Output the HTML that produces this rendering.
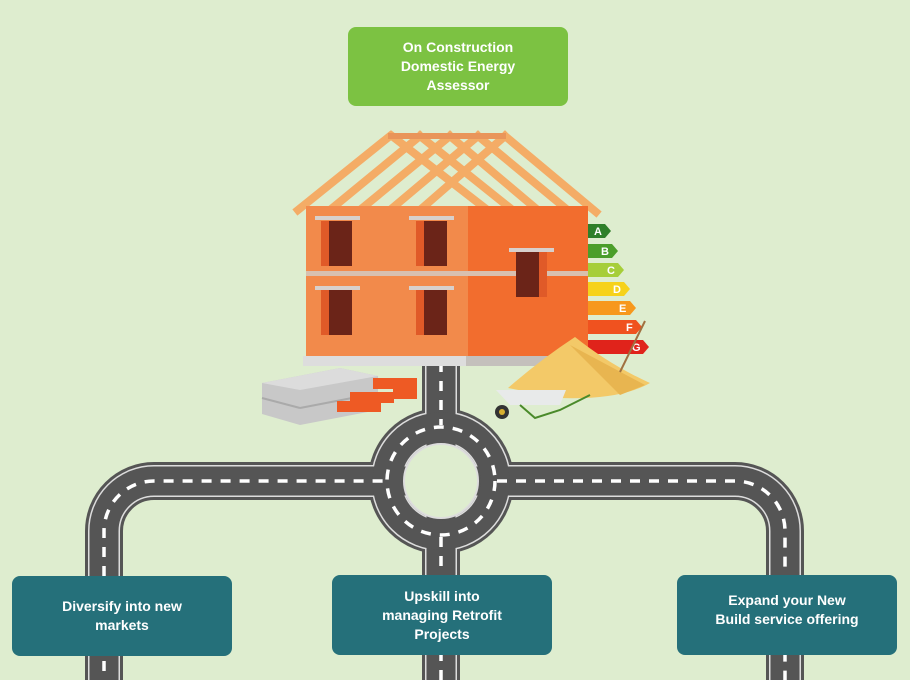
<!DOCTYPE html>
<html><head><meta charset="utf-8"><style>
html,body{margin:0;padding:0;background:#deedcf;}
body{width:910px;height:680px;position:relative;overflow:hidden;font-family:"Liberation Sans",sans-serif;}
.box{position:absolute;color:#fff;font-weight:bold;font-size:14px;line-height:19px;text-align:center;border-radius:8px;display:flex;align-items:center;justify-content:center;}
.g{background:#7cc242;}
.t{background:#25707a;}
</style></head><body>
<svg width="910" height="680" style="position:absolute;left:0;top:0">
<g fill="none">
 <path d="M104 690 V531 A50 50 0 0 1 154 481 H735 A50 50 0 0 1 785 531 V690" stroke="#555" stroke-width="38"/>
 <path d="M441 360 V690" stroke="#555" stroke-width="38"/>
 <circle cx="441" cy="481" r="54" stroke="#555" stroke-width="38"/>
 <path d="M104 690 V531 A50 50 0 0 1 154 481 H735 A50 50 0 0 1 785 531 V690" stroke="#ddd" stroke-width="32"/>
 <path d="M441 360 V690" stroke="#ddd" stroke-width="32"/>
 <circle cx="441" cy="481" r="54" stroke="#ddd" stroke-width="32"/>
 <path d="M104 690 V531 A50 50 0 0 1 154 481 H735 A50 50 0 0 1 785 531 V690" stroke="#555" stroke-width="29"/>
 <path d="M441 360 V690" stroke="#555" stroke-width="29"/>
 <circle cx="441" cy="481" r="54" stroke="#555" stroke-width="29"/>
 <circle cx="441" cy="481" r="37" fill="#deedcf" stroke="#ddd" stroke-width="2"/>
 <path d="M104 690 V531 A50 50 0 0 1 154 481 H385 M497 481 H735 A50 50 0 0 1 785 531 V690" stroke="#fff" stroke-width="3.5" stroke-dasharray="10 9"/>
 <path d="M441 362 V425 M441 537 V690" stroke="#fff" stroke-width="3.5" stroke-dasharray="10 9"/>
 <circle cx="441" cy="481" r="54" stroke="#fff" stroke-width="3.5" stroke-dasharray="10 9"/>
</g>
<g stroke="#f4ac66" stroke-width="8" stroke-linecap="square">
 <line x1="298" y1="210" x2="390" y2="136"/>
 <line x1="330" y1="210" x2="420" y2="136"/>
 <line x1="360" y1="210" x2="450" y2="136"/>
 <line x1="390" y1="210" x2="478" y2="136"/>
 <line x1="420" y1="210" x2="505" y2="136"/>
 <line x1="392" y1="136" x2="490" y2="212"/>
 <line x1="420" y1="136" x2="515" y2="212"/>
 <line x1="450" y1="136" x2="540" y2="212"/>
 <line x1="478" y1="136" x2="570" y2="212"/>
 <line x1="505" y1="136" x2="596" y2="212"/>
</g>
<rect x="388" y="133" width="118" height="6" fill="#e9955a"/>
<rect x="306" y="206" width="162" height="150" fill="#f28a4b"/>
<rect x="468" y="206" width="120" height="150" fill="#f26d2e"/>
<rect x="306" y="271" width="282" height="5" fill="#d8c0b0"/>
<rect x="303" y="356" width="163" height="10" fill="#ddd"/>
<rect x="466" y="356" width="110" height="10" fill="#c4c0bc"/>
<g fill="#6b2418">
 <rect x="329" y="221" width="23" height="45"/><rect x="424" y="221" width="23" height="45"/>
 <rect x="329" y="290" width="23" height="45"/><rect x="424" y="290" width="23" height="45"/>
 <rect x="516" y="252" width="23" height="45"/>
</g>
<g fill="#e05a28">
 <rect x="321" y="221" width="8" height="45"/><rect x="416" y="221" width="8" height="45"/>
 <rect x="321" y="290" width="8" height="45"/><rect x="416" y="290" width="8" height="45"/>
 <rect x="539" y="252" width="8" height="45"/>
</g>
<g fill="#d8d0cc">
 <rect x="315" y="216" width="45" height="4"/><rect x="409" y="216" width="45" height="4"/>
 <rect x="315" y="286" width="45" height="4"/><rect x="409" y="286" width="45" height="4"/>
 <rect x="509" y="248" width="45" height="4"/>
</g>
<g font-family="Liberation Sans" font-weight="bold" font-size="11" fill="#fff">
 <path d="M588 224h17l6 7-6 7h-17z" fill="#2f7f2a"/><text x="594" y="235">A</text>
 <path d="M588 244h24l6 7-6 7h-24z" fill="#4b9e2a"/><text x="601" y="255">B</text>
 <path d="M588 263h30l6 7-6 7h-30z" fill="#a6ce39"/><text x="607" y="274">C</text>
 <path d="M588 282h36l6 7-6 7h-36z" fill="#f6d21a"/><text x="613" y="293">D</text>
 <path d="M588 301h42l6 7-6 7h-42z" fill="#f7981d"/><text x="619" y="312">E</text>
 <path d="M588 320h48l6 7-6 7h-48z" fill="#f0521f"/><text x="626" y="331">F</text>
 <path d="M588 340h55l6 7-6 7h-55z" fill="#e0231b"/><text x="632" y="351">G</text>
</g>
<path d="M508 388 Q540 360 575 337 Q610 365 650 383 Q620 400 560 398 Z" fill="#f3c968"/>
<path d="M570 345 L645 385 L620 395 Z" fill="#e8b550"/>
<line x1="645" y1="321" x2="620" y2="372" stroke="#a07040" stroke-width="2"/>
<path d="M496 390 L566 390 L560 405 L510 405Z" fill="#e8eaea"/>
<path d="M520 405 L535 418 L560 410 L590 395" stroke="#4a8a2a" stroke-width="2" fill="none"/>
<circle cx="502" cy="412" r="7" fill="#333"/><circle cx="502" cy="412" r="3" fill="#d8b030"/>
<path d="M262 383 L340 368 L378 376 L378 410 L300 425 L262 414Z" fill="#c8c8c8"/>
<path d="M262 383 L340 368 L378 376 L300 390Z" fill="#dcdcdc"/>
<line x1="262" y1="398" x2="300" y2="408" stroke="#aaa" stroke-width="2"/>
<line x1="300" y1="408" x2="378" y2="393" stroke="#aaa" stroke-width="2"/>
<g fill="#ee5a24">
 <rect x="373" y="378" width="44" height="11"/><rect x="350" y="392" width="44" height="11"/>
 <rect x="337" y="401" width="44" height="11"/><rect x="393" y="388" width="24" height="11"/>
</g>
</svg>
<div class="box g" style="left:348px;top:27px;width:220px;height:79px;">On Construction<br>Domestic Energy<br>Assessor</div>
<div class="box t" style="left:12px;top:576px;width:220px;height:80px;">Diversify into new<br>markets</div>
<div class="box t" style="left:332px;top:575px;width:220px;height:80px;">Upskill into<br>managing Retrofit<br>Projects</div>
<div class="box t" style="left:677px;top:575px;width:220px;height:80px;padding-bottom:10px;box-sizing:border-box;">Expand your New<br>Build service offering</div>
</body></html>
